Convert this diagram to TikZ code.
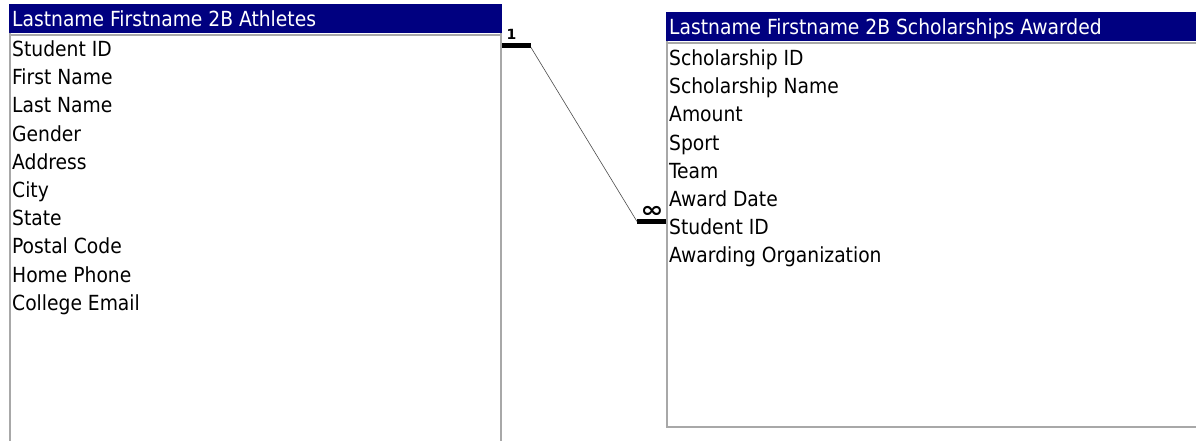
\documentclass[tikz,border=0pt]{standalone}
\usepackage{fontspec}
\setmainfont{DejaVu Sans Condensed}
\newfontfamily\symfont{DejaVu Sans}
\definecolor{titleblue}{HTML}{000080}
\definecolor{edgegray}{HTML}{A8A8A8}
\begin{document}
\begin{tikzpicture}[x=1pt,y=-1pt,
  titlebar/.style={fill=titleblue,draw=none},
  tabletitle/.style={anchor=base west,inner sep=0pt,text=white,font=\fontsize{20.8}{20.8}\selectfont},
  field/.style={anchor=base west,inner sep=0pt,text=black,font=\fontsize{20.8}{20.8}\selectfont},
  edge/.style={draw=edgegray,line width=2pt},
  bar/.style={line width=5pt,black},
  relline/.style={draw=black!70,line width=0.6pt}]
\useasboundingbox (0,0) rectangle (1196,440);
\clip (0,0) rectangle (1196,440);
\fill[white] (0,0) rectangle (1196,440);
% Left table
\fill[titlebar] (9,4) rectangle (502,33);
\draw[edge] (10,33) -- (10,445);
\draw[edge] (501,33) -- (501,445);
\draw[edge] (9,34.5) -- (502,34.5);
\node[tabletitle] (lt) at (12,26.5) {Lastname Firstname 2B Athletes};
\foreach \t [count=\i from 0] in {Student ID,First Name,Last Name,Gender,Address,City,State,Postal Code,Home Phone,College Email}
  \node[field] (l\i) at (12,{56.5+28.2*\i}) {\t};
% Right table
\fill[titlebar] (666,12) rectangle (1200,41);
\draw[edge] (667,41) -- (667,427);
\draw[edge] (666,427) -- (1200,427);
\draw[edge] (666,42.5) -- (1200,42.5);
\node[tabletitle] (rt) at (669,34.5) {Lastname Firstname 2B Scholarships Awarded};
\foreach \t [count=\i from 0] in {Scholarship ID,Scholarship Name,Amount,Sport,Team,Award Date,Student ID,Awarding Organization}
  \node[field] (r\i) at (669,{65.5+28.2*\i}) {\t};
% Relationship
\coordinate (a0) at (502,45.5);
\coordinate (a1) at (531,45.5);
\coordinate (b0) at (637,221.5);
\coordinate (b1) at (666,221.5);
\draw[bar] (a0) -- (a1);
\draw[bar] (b0) -- (b1);
\node[inner sep=0pt,anchor=base,font=\symfont\bfseries\fontsize{14}{14}\selectfont] (one) at (511.5,39) {1};
\node[inner sep=0pt,xscale=1.25,font=\symfont\bfseries\fontsize{22}{22}\selectfont] (many) at (652,212) {∞};
\draw[relline] (a1) ++(0,2) -- (b0);
\end{tikzpicture}
\end{document}
